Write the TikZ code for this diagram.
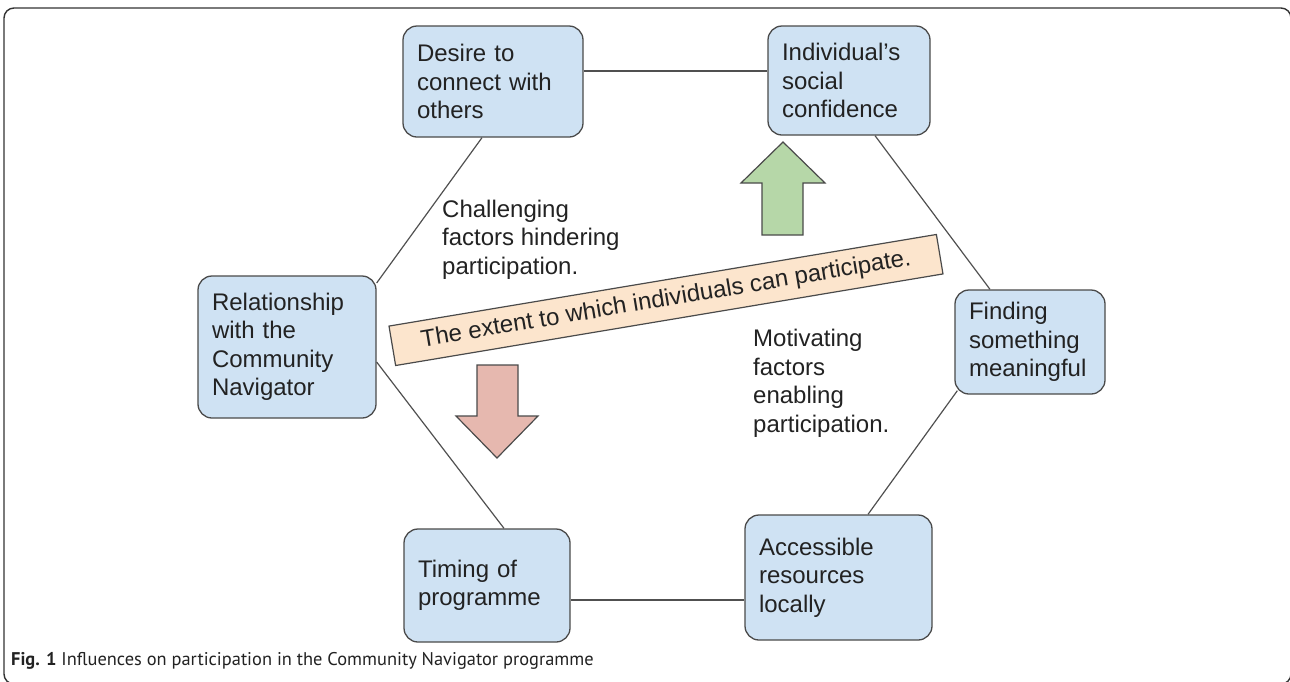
\documentclass[tikz,border=0pt]{standalone}
\usepackage{fontspec}
\setmainfont{Liberation Sans}
\newfontfamily\capfont{PT Sans}
\usetikzlibrary{calc}
\definecolor{boxblue}{HTML}{CFE2F3}
\definecolor{boxline}{HTML}{4A4A4A}
\definecolor{bannerfill}{HTML}{FCE5CD}
\definecolor{upgreen}{HTML}{B6D7A8}
\definecolor{downred}{HTML}{E6B8AF}
\definecolor{linkgray}{HTML}{505050}
\definecolor{inkgray}{HTML}{222222}

\begin{document}
\begin{tikzpicture}[x=1pt,y=-1pt,
  factor/.style={draw=boxline, line width=1.3pt, fill=boxblue, rounded corners=14pt,
    inner xsep=14pt, inner ysep=0pt, align=left,
    font=\fontsize{24}{28.5}\selectfont, text=inkgray},
  link/.style={draw=linkgray, line width=1.2pt},
  note/.style={align=left, inner sep=0pt, font=\fontsize{24}{28.5}\selectfont, text=inkgray},
  bigarrow/.style={draw=boxline, line width=1.2pt, line join=miter}]
\useasboundingbox (0,0) rectangle (1290,681);

% outer frame of the figure
\draw[line width=1.4pt, draw=black!80, rounded corners=10pt] (4,8) rectangle (1291,684);

% the six influences
\node[factor, text width=152pt, minimum height=111pt] (desire) at (493,81.5) {Desire to\\connect with\\others};
\node[factor, text width=134pt, minimum height=109pt] (conf) at (849,80.5) {Individual’s\\social\\confidence};
\node[factor, text width=150pt, minimum height=142pt] (rel) at (287,347) {Relationship\\with the\\Community\\Navigator};
\node[factor, text width=122pt, minimum height=104pt] (mean) at (1030,342) {Finding\\something\\meaningful};
\node[factor, text width=138pt, minimum height=113pt] (timing) at (487,585.5) {Timing of\\programme};
\node[factor, text width=159pt, minimum height=125pt] (access) at (838.5,577.5) {Accessible\\resources\\locally};

% ring of connections
\draw[link] ([yshift=10.5pt]desire.east) -- ([yshift=10.5pt]desire.east -| conf.west);
\draw[link] ([xshift=-11pt]desire.south) -- ([yshift=64pt]rel.east);
\draw[link] ([yshift=-15pt]rel.east) -- ([xshift=17pt]timing.north);
\draw[link] ([yshift=-14.5pt]timing.east) -- ([yshift=-14.5pt]timing.east -| access.west);
\draw[link] ([xshift=29.5pt]access.north) -- ([xshift=3pt,yshift=4pt]mean.south west);
\draw[link] ([xshift=26pt]conf.south) -- ([xshift=-40pt]mean.north);

% side notes
\node[note, anchor=west] (hinder) at (442,239.5) {Challenging\\factors hindering\\participation.};
\node[note, anchor=west] (enable) at (753,383.5) {Motivating\\factors\\enabling\\participation.};

% central banner
\node[draw=boxline, line width=1.2pt, fill=bannerfill, rotate=9.5,
  minimum width=555pt, minimum height=40pt, inner sep=0pt,
  font=\fontsize{24}{28}\selectfont, text=inkgray] (extent) at (666,300)
  {The extent to which individuals can participate.};

% up and down arrows
\draw[bigarrow, fill=upgreen] (783,142) -- (825,183) -- (803,183) -- (803,235)
  -- (762,235) -- (762,183) -- (741,183) -- cycle;
\draw[bigarrow, fill=downred] (497,458) -- (538,416) -- (518,416) -- (518,365)
  -- (477,365) -- (477,416) -- (456,416) -- cycle;

% caption
\node[anchor=base west, inner sep=0pt, font=\capfont\fontsize{18.4}{21}\selectfont, text=inkgray]
  (caption) at (11,665) {\textbf{Fig. 1} Influences on participation in the Community Navigator programme};
\end{tikzpicture}
\end{document}
